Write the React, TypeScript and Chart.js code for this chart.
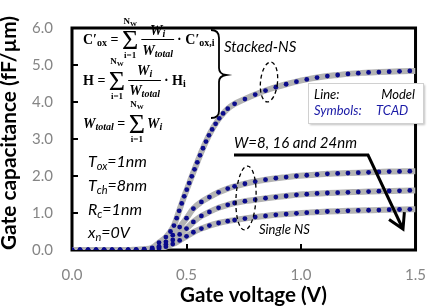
import React, { useEffect, useRef } from "react";
import { Chart, registerables } from "chart.js";
Chart.register(...registerables);

// ---- Data ----
const X_STACKED = [0, 0.035, 0.07, 0.105, 0.14, 0.175, 0.21, 0.245, 0.28, 0.315, 0.35,
  0.38, 0.41, 0.43, 0.445, 0.457, 0.468, 0.479, 0.49, 0.501, 0.512, 0.523, 0.535, 0.547, 0.559, 0.572, 0.585, 0.598, 0.612, 0.627, 0.643, 0.66, 0.68,
  0.71, 0.755, 0.8, 0.845, 0.89, 0.935, 0.98, 1.025, 1.07, 1.115, 1.16, 1.205, 1.25, 1.295, 1.34, 1.385, 1.43, 1.475, 1.5];
const Y_STACKED = [0, 0, 0, 0, 0, 0, 0, 0, 0.01, 0.02, 0.06,
  0.2, 0.35, 0.5, 0.66, 0.86, 1.06, 1.26, 1.45, 1.63, 1.81, 1.99, 2.18, 2.37, 2.56, 2.75, 2.93, 3.1, 3.26, 3.41, 3.56, 3.69, 3.82,
  3.95, 4.08, 4.2, 4.31, 4.4, 4.48, 4.55, 4.61, 4.66, 4.7, 4.73, 4.76, 4.78, 4.8, 4.81, 4.82, 4.83, 4.84, 4.84];

const X_W = [0, 0.035, 0.07, 0.105, 0.14, 0.175, 0.21, 0.245, 0.28, 0.315, 0.35,
  0.38, 0.41, 0.44, 0.47, 0.5, 0.53, 0.565, 0.6, 0.64, 0.68,
  0.71, 0.755, 0.8, 0.845, 0.89, 0.935, 0.98, 1.025, 1.07, 1.115, 1.16, 1.205, 1.25, 1.295, 1.34, 1.385, 1.43, 1.475, 1.5];
const Y_W24 = [0, 0, 0, 0, 0, 0, 0, 0, 0, 0.01, 0.03,
  0.1, 0.22, 0.4, 0.62, 0.86, 1.12, 1.3, 1.43, 1.56, 1.66,
  1.72, 1.79, 1.85, 1.9, 1.94, 1.97, 2.0, 2.02, 2.04, 2.06, 2.07, 2.08, 2.09, 2.1, 2.11, 2.12, 2.125, 2.13, 2.13];
const Y_W16 = [0, 0, 0, 0, 0, 0, 0, 0, 0, 0.01, 0.02,
  0.07, 0.15, 0.27, 0.42, 0.58, 0.76, 0.92, 1.03, 1.14, 1.22,
  1.27, 1.32, 1.36, 1.4, 1.43, 1.46, 1.49, 1.51, 1.53, 1.54, 1.55, 1.56, 1.57, 1.58, 1.59, 1.595, 1.6, 1.61, 1.61];
const Y_W8 = [0, 0, 0, 0, 0, 0, 0, 0, 0, 0, 0.01,
  0.04, 0.09, 0.16, 0.26, 0.37, 0.48, 0.58, 0.66, 0.73, 0.78,
  0.81, 0.85, 0.89, 0.92, 0.95, 0.97, 0.99, 1.01, 1.03, 1.04, 1.05, 1.06, 1.07, 1.075, 1.08, 1.09, 1.095, 1.1, 1.1];

const X_TICKS = [0, 0.5, 1.0, 1.5];
const Y_TICKS = [0, 1, 2, 3, 4, 5, 6];

// ---- Styles ----
const LINE_COLOR = "#b3b3b3";
const DOT_COLOR = "#0b0b8c";
const TICK_COLOR = "#858585";
const SANS = 'Lato, "Open Sans", sans-serif';
const SERIF = '"Liberation Serif", "DejaVu Serif", serif';

type Part = [string, string, number];

function seqWidth(ctx: CanvasRenderingContext2D, parts: Part[]) {
  let w = 0;
  for (const [t, f] of parts) { ctx.font = f; w += ctx.measureText(t).width; }
  return w;
}
function seq(ctx: CanvasRenderingContext2D, x: number, y: number, parts: Part[]) {
  ctx.textAlign = "left";
  ctx.textBaseline = "alphabetic";
  for (const [t, f, dy] of parts) {
    ctx.font = f;
    ctx.fillText(t, x, y + dy);
    x += ctx.measureText(t).width;
  }
  return x;
}
function centered(ctx: CanvasRenderingContext2D, cx: number, y: number, parts: Part[]) {
  const w = seqWidth(ctx, parts);
  seq(ctx, cx - w / 2, y, parts);
}

const b14 = `bold 14px ${SERIF}`;
const b10 = `bold 10px ${SERIF}`;
const bi14 = `italic bold 14px ${SERIF}`;
const bi10 = `italic bold 10px ${SERIF}`;
const b9 = `bold 9px ${SERIF}`;
const b7 = `bold 7px ${SERIF}`;
const sigFont = `28px ${SERIF}`;

function sigma(ctx: CanvasRenderingContext2D, x: number, base: number, topY: number, botY: number) {
  ctx.font = sigFont;
  ctx.textAlign = "left";
  ctx.textBaseline = "alphabetic";
  ctx.fillText("Σ", x, base);
  const w = ctx.measureText("Σ").width;
  const cx = x + w / 2;
  centered(ctx, cx, topY, [["N", b9, 0], ["W", b7, 2]]);
  centered(ctx, cx, botY, [["i=1", b9, 0]]);
  return x + w;
}
function fraction(ctx: CanvasRenderingContext2D, x: number, numY: number, denY: number, barY: number) {
  const num: Part[] = [["W", bi14, 0], ["i", bi10, 2]];
  const den: Part[] = [["W", bi14, 0], ["total", bi10, 2]];
  const w = Math.max(seqWidth(ctx, num), seqWidth(ctx, den)) + 2;
  centered(ctx, x + w / 2, numY, num);
  centered(ctx, x + w / 2, denY, den);
  ctx.fillRect(x, barY, w, 1);
  return x + w;
}

function fitFont(ctx: CanvasRenderingContext2D, text: string, weight: string, target: number) {
  ctx.font = `${weight} 20px ${SANS}`;
  const w = ctx.measureText(text).width;
  const size = (20 * target) / w;
  return `${weight} ${size.toFixed(2)}px ${SANS}`;
}

const deco = {
  id: "deco",
  beforeDatasetsDraw(chart: any) {
    const { ctx, chartArea: a, scales } = chart;
    ctx.save();
    ctx.strokeStyle = "#000";
    ctx.lineWidth = 2;
    for (const v of Y_TICKS.slice(1, -1)) {
      const y = Math.round(scales.y.getPixelForValue(v));
      ctx.beginPath(); ctx.moveTo(a.left, y); ctx.lineTo(a.left + 6, y); ctx.stroke();
    }
    for (const v of X_TICKS.slice(1, -1)) {
      const x = Math.round(scales.x.getPixelForValue(v));
      ctx.beginPath(); ctx.moveTo(x, a.bottom); ctx.lineTo(x, a.bottom - 6); ctx.stroke();
    }
    ctx.lineWidth = 3;
    ctx.strokeRect(a.left, a.top, a.right - a.left, a.bottom - a.top);
    ctx.restore();
  },
  afterDraw(chart: any) {
    const ctx: CanvasRenderingContext2D = chart.ctx;
    ctx.save();
    ctx.fillStyle = "#000";
    ctx.strokeStyle = "#000";

    // Axis titles
    const xt = "Gate voltage (V)";
    ctx.font = fitFont(ctx, xt, "bold", 147);
    ctx.textAlign = "center"; ctx.textBaseline = "alphabetic";
    ctx.fillText(xt, 253.5, 302);
    const yt = "Gate capacitance (fF/µm)";
    ctx.save();
    ctx.translate(16, 133);
    ctx.rotate(-Math.PI / 2);
    ctx.font = fitFont(ctx, yt, "bold", 234);
    ctx.textAlign = "center"; ctx.textBaseline = "alphabetic";
    ctx.fillText(yt, 0, 0);
    ctx.restore();

    // Formulas
    let x = seq(ctx, 83, 44, [["C′", b14, 0], ["ox", b10, 2], [" = ", b14, 0]]);
    x = sigma(ctx, x, 49, 24, 58);
    x = fraction(ctx, x + 3, 35, 55, 39);
    seq(ctx, x + 3, 44, [["· C′", b14, 0], ["ox,i", b10, 2]]);

    x = seq(ctx, 83, 85, [["H = ", b14, 0]]);
    x = sigma(ctx, x, 90, 64, 99);
    x = fraction(ctx, x + 3, 75, 95, 80);
    seq(ctx, x + 3, 85, [["· H", b14, 0], ["i", b10, 2]]);

    x = seq(ctx, 83, 128, [["W", bi14, 0], ["total", bi10, 2], [" = ", b14, 0]]);
    x = sigma(ctx, x, 133, 107, 142);
    seq(ctx, x + 2, 128, [["W", bi14, 0], ["i", bi10, 2]]);

    // Brace
    ctx.lineWidth = 1.8;
    ctx.beginPath();
    ctx.moveTo(211, 30);
    ctx.quadraticCurveTo(219, 30, 219, 38);
    ctx.lineTo(219, 68);
    ctx.quadraticCurveTo(219, 74, 226, 75);
    ctx.quadraticCurveTo(219, 76, 219, 82);
    ctx.lineTo(219, 111);
    ctx.quadraticCurveTo(219, 118, 211, 118);
    ctx.stroke();

    // Parameters
    const i16 = `italic 16px ${SANS}`;
    const i11 = `italic 11px ${SANS}`;
    seq(ctx, 88, 167, [["T", i16, 0], ["ox", i11, 3], ["=1nm", i16, 0]]);
    seq(ctx, 88, 191, [["T", i16, 0], ["ch", i11, 3], ["=8nm", i16, 0]]);
    seq(ctx, 88, 215, [["R", i16, 0], ["c", i11, 3], ["=1nm", i16, 0]]);
    seq(ctx, 88, 238, [["x", i16, 0], ["n", i11, 3], ["=0V", i16, 0]]);

    // Labels
    const i15 = `italic 15px ${SANS}`;
    const i13 = `italic 13px ${SANS}`;
    seq(ctx, 224, 52, [["Stacked-NS", i15, 0]]);
    seq(ctx, 234, 148, [["W=8, 16 and 24nm", i15, 0]]);
    seq(ctx, 259, 234, [["Single NS", i13, 0]]);

    // Legend box
    ctx.save();
    ctx.shadowColor = "rgba(0,0,0,0.25)";
    ctx.shadowOffsetX = 2; ctx.shadowOffsetY = 2; ctx.shadowBlur = 2;
    ctx.fillStyle = "#fff";
    ctx.fillRect(308, 83, 115, 40);
    ctx.restore();
    ctx.strokeStyle = "#d0d0d0"; ctx.lineWidth = 1;
    ctx.strokeRect(308.5, 83.5, 115, 40);
    ctx.fillStyle = "#000";
    seq(ctx, 314, 99, [["Line:", i13, 0]]);
    ctx.font = i13; ctx.textAlign = "right"; ctx.fillText("Model", 415, 99);
    ctx.fillStyle = "#1a1aa6";
    seq(ctx, 314, 115, [["Symbols:", i13, 0]]);
    seq(ctx, 376, 115, [["TCAD", i13, 0]]);

    // Arrow
    ctx.strokeStyle = "#000"; ctx.lineWidth = 3; ctx.lineJoin = "miter";
    ctx.beginPath();
    ctx.moveTo(234, 155); ctx.lineTo(368, 155); ctx.lineTo(402, 227);
    ctx.stroke();
    const ang = Math.atan2(227 - 155, 402 - 368);
    const hl = 15;
    ctx.beginPath();
    ctx.moveTo(402 - hl * Math.cos(ang - 0.6), 227 - hl * Math.sin(ang - 0.6));
    ctx.lineTo(403, 229);
    ctx.lineTo(402 - hl * Math.cos(ang + 0.6), 227 - hl * Math.sin(ang + 0.6));
    ctx.stroke();

    // Dashed ellipses
    ctx.lineWidth = 1.3;
    ctx.setLineDash([4, 3]);
    ctx.beginPath(); ctx.ellipse(269, 82, 8.5, 20, 0.1, 0, Math.PI * 2); ctx.stroke();
    ctx.beginPath(); ctx.ellipse(246, 198, 10, 32, 0.05, 0, Math.PI * 2); ctx.stroke();
    ctx.setLineDash([]);
    ctx.restore();
  },
};

export default function App() {
  const ref = useRef<HTMLCanvasElement>(null);
  useEffect(() => {
    const canvas = ref.current;
    if (!canvas) return;
    const pts = (xs: number[], ys: number[]) => xs.map((x, i) => ({ x, y: ys[i] }));
    const curves: [number[], number[]][] = [
      [X_STACKED, Y_STACKED],
      [X_W, Y_W24],
      [X_W, Y_W16],
      [X_W, Y_W8],
    ];
    const lineSets = curves.map(([xs, ys]) => ({
      data: pts(xs, ys),
      borderColor: LINE_COLOR,
      borderWidth: 6,
      pointRadius: 0,
      cubicInterpolationMode: "monotone" as const,
      fill: false,
      order: 1,
    }));
    const dotSets = curves.map(([xs, ys]) => ({
      data: pts(xs, ys),
      showLine: false,
      pointRadius: (c: any) => (c.raw && c.raw.x >= 1.49 ? 0 : 2.4),
      pointBackgroundColor: DOT_COLOR,
      pointBorderWidth: 0,
      borderColor: DOT_COLOR,
      order: 0,
    }));
    const chart = new Chart(canvas, {
      type: "line",
      data: { datasets: [...dotSets, ...lineSets] as any },
      options: {
        responsive: false,
        animation: false,
        devicePixelRatio: 1,
        layout: { padding: { top: 14, right: 15, left: 0, bottom: 0 } },
        plugins: { legend: { display: false }, tooltip: { enabled: false } },
        scales: {
          x: {
            type: "linear",
            min: 0,
            max: 1.5,
            afterBuildTicks: (s: any) => { s.ticks = X_TICKS.map((v) => ({ value: v })); },
            afterFit: (s: any) => { s.height = 58; },
            grid: { display: false, drawTicks: false },
            border: { display: false },
            ticks: {
              padding: 16,
              color: TICK_COLOR,
              font: { family: SANS, size: 15 },
              maxRotation: 0,
              callback: (v: any) => Number(v).toFixed(1),
            },
          },
          y: {
            type: "linear",
            min: 0,
            max: 6,
            afterBuildTicks: (s: any) => { s.ticks = Y_TICKS.map((v) => ({ value: v })); },
            afterFit: (s: any) => { s.width = 72; },
            grid: { display: false, drawTicks: false },
            border: { display: false },
            ticks: {
              padding: 19,
              color: TICK_COLOR,
              font: { family: SANS, size: 15 },
              callback: (v: any) => Number(v).toFixed(1),
            },
          },
        },
      },
      plugins: [deco],
    });
    return () => chart.destroy();
  }, []);
  return (
    <div style={{ position: "fixed", left: 0, top: 0, width: 442, height: 308, background: "#fff" }}>
      <canvas ref={ref} width={442} height={308} style={{ display: "block" }} />
    </div>
  );
}
